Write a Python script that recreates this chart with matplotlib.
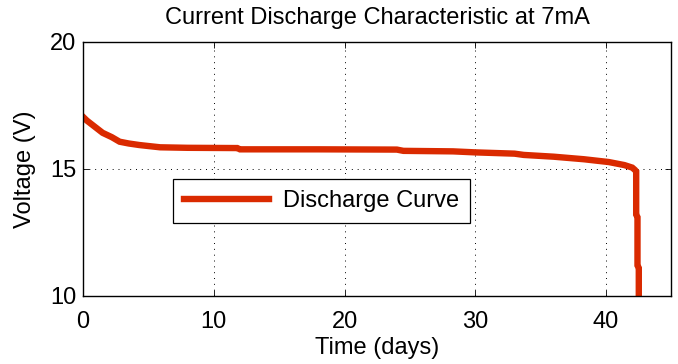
import matplotlib
matplotlib.use("Agg")
import matplotlib.pyplot as plt

plt.rcParams['font.family'] = ['Liberation Sans', 'DejaVu Sans']

# discharge curve
time_days = [0, 0.3, 0.8, 1.5, 2.2, 2.8, 3.5, 4.3, 5.0, 5.9, 8.0, 11.8, 12.0,
             18.0, 24.0, 24.5, 28.3, 30.0, 33.0, 33.7, 36.0, 38.3, 40.2, 41.4,
             42.0, 42.2, 42.3, 42.3, 42.4, 42.4, 42.5, 42.5]
voltage = [17.05, 16.9, 16.7, 16.42, 16.25, 16.07, 16.0, 15.94, 15.9, 15.85,
           15.83, 15.82, 15.77, 15.77, 15.76, 15.71, 15.69, 15.65, 15.6, 15.55,
           15.48, 15.38, 15.27, 15.15, 15.05, 14.96, 14.9, 13.2, 13.1, 11.2,
           11.1, 9.8]

xticks = [0, 10, 20, 30, 40]
yticks = [10, 15, 20]

fig = plt.figure(figsize=(6.78, 3.64), dpi=100)
ax = fig.add_axes([0.1224, 0.187, 0.868, 0.698])

ax.plot(time_days, voltage, color='#DA2A00', lw=4.6, label='Discharge Curve',
        solid_joinstyle='miter')

ax.set_xlim(0, 45)
ax.set_ylim(10, 20)
ax.set_xticks(xticks)
ax.set_yticks(yticks)
ax.tick_params(direction='in', length=4, width=0.6, labelsize=17,
               top=True, right=True, pad=5)
ax.tick_params(axis='x', pad=11)
ax.grid(True, linestyle=(0, (1, 5)), color='black', linewidth=0.7)
for s in ax.spines.values():
    s.set_linewidth(1.0)

ax.set_xlabel('Time (days)', fontsize=17, labelpad=3)
ax.set_ylabel('Voltage (V)', fontsize=17, labelpad=10)
ax.set_title('Current Discharge Characteristic at 7mA', fontsize=17, pad=13)

leg = ax.legend(loc='center', bbox_to_anchor=(0.405, 0.374), fontsize=17,
                fancybox=False, framealpha=1, edgecolor='black',
                handlelength=3.6, borderpad=0.45, handletextpad=0.6)
leg.get_frame().set_linewidth(0.9)

fig.savefig('out.png', dpi=100)
